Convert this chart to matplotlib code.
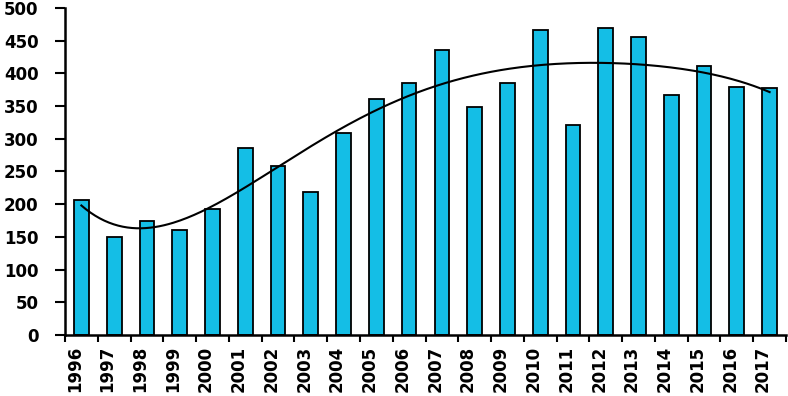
import numpy as np
import matplotlib
matplotlib.use("Agg")
import matplotlib.pyplot as plt

years = [str(y) for y in range(1996, 2018)]
values = [207, 150, 174, 161, 192, 286, 258, 218, 309, 361, 385, 436,
          348, 385, 467, 321, 470, 455, 367, 412, 379, 377]
trend_order = 5

fig = plt.figure(figsize=(7.88, 3.96), dpi=100)
ax = fig.add_axes([65/788, 61/396, 721/788, 327/396])

x = np.arange(len(years))
ax.bar(x, values, width=0.45, color='#14BEE6', edgecolor='black', linewidth=1.3, zorder=2)

xs = np.linspace(0, len(years) - 1, 300)
coef = np.polyfit(x, values, trend_order)
ax.plot(xs, np.polyval(coef, xs), color='black', lw=1.5, zorder=3)

ax.set_xlim(-0.5, len(years) - 0.5)
ax.set_ylim(0, 500)
ax.set_yticks(range(0, 501, 50))
ax.set_yticklabels([str(v) for v in range(0, 501, 50)], fontsize=12,
                   fontweight='bold', family='DejaVu Sans')
ax.tick_params(axis='y', length=7, width=1.5, pad=12)

ax.set_xticks(np.append(x - 0.5, len(years) - 0.5))
ax.set_xticklabels([''] * (len(years) + 1))
ax.tick_params(axis='x', length=5, width=1.5)
for xi, lab in zip(x, years):
    ax.text(xi - 0.2, -17, lab, rotation=90, ha='center', va='top', fontsize=12,
            fontweight='bold', family='DejaVu Sans', clip_on=False)

for s in ['top', 'right']:
    ax.spines[s].set_visible(False)
for s in ['left', 'bottom']:
    ax.spines[s].set_linewidth(1.8)

fig.savefig('out.png', dpi=100)
